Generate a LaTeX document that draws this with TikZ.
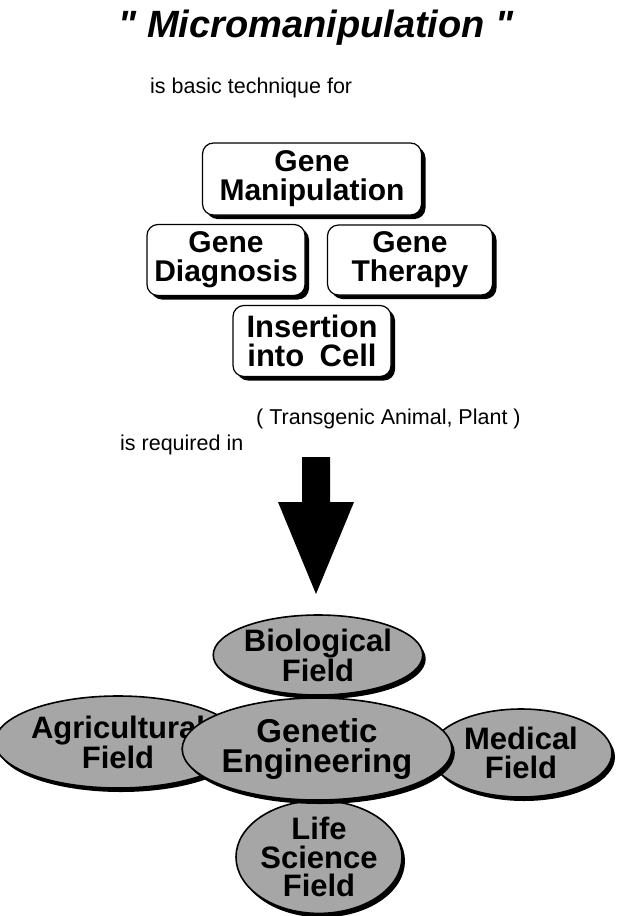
\documentclass[tikz,border=0pt]{standalone}
\usepackage{fontspec}
\setmainfont{Liberation Sans}
\newfontfamily\titlefont[Ligatures=TeXOff]{Liberation Sans}
\usetikzlibrary{shapes.geometric,shadows}

\tikzset{
  techbox/.style={draw, line width=1.2pt, rounded corners=11pt, fill=white, align=center,
    inner sep=0pt, font=\bfseries\fontsize{30}{29}\selectfont,
    drop shadow={shadow xshift=4pt, shadow yshift=-4pt, opacity=1, fill=black}},
  fieldoval/.style={ellipse, draw, line width=1.6pt, fill=black!35, align=center,
    inner sep=0pt, font=\bfseries\fontsize{31}{28.5}\selectfont,
    drop shadow={shadow xshift=3pt, shadow yshift=-4pt, opacity=1, fill=black}},
  plaintext/.style={inner sep=0pt, font=\fontsize{21.5}{24}\selectfont}
}

\begin{document}
\begin{tikzpicture}[x=1pt, y=-1pt]
\useasboundingbox (0,0) rectangle (617,916);

% title
\node [inner sep=0pt, font=\titlefont\bfseries\itshape\fontsize{38}{40}\selectfont] (title) at (316,28) {" Micromanipulation "};
\node [plaintext, anchor=west] (basic) at (150,88) {is basic technique for};

% techniques
\node [techbox, minimum width=219, minimum height=72] (manip) at (312,179) {Gene\\Manipulation};
\node [techbox, minimum width=158, minimum height=71] (diag) at (226,260) {Gene\\Diagnosis};
\node [techbox, minimum width=165, minimum height=70] (therapy) at (410,260) {Gene\\Therapy};
\node [techbox, minimum width=158, minimum height=71, font=\bfseries\fontsize{31}{29}\selectfont] (insert) at (312,341) {Insertion\\into\enspace Cell};

\node [plaintext, anchor=west] (transgenic) at (256,419) {( Transgenic Animal, Plant )};
\node [plaintext, anchor=west] (required) at (120,445) {is required in};

% big arrow
\fill (302,457) -- (330,457) -- (330,502) -- (354,502) -- (316,594) -- (278,502) -- (302,502) -- cycle;

% fields
\node [fieldoval, minimum width=212, minimum height=92] (agri) at (118,742) {Agricultural\\Field};
\node [fieldoval, minimum width=184, minimum height=80] (bio) at (318,655) {Biological\\Field};
\node [fieldoval, minimum width=182, minimum height=88] (medical) at (521,753) {Medical\\Field};
\node [fieldoval, minimum width=166, minimum height=112] (life) at (319,857) {Life\\Science\\Field};
\node [fieldoval, minimum width=234, minimum height=102, font=\bfseries\fontsize{33}{30}\selectfont] (genetic) at (317,749) {Genetic\\Engineering};

\end{tikzpicture}
\end{document}
